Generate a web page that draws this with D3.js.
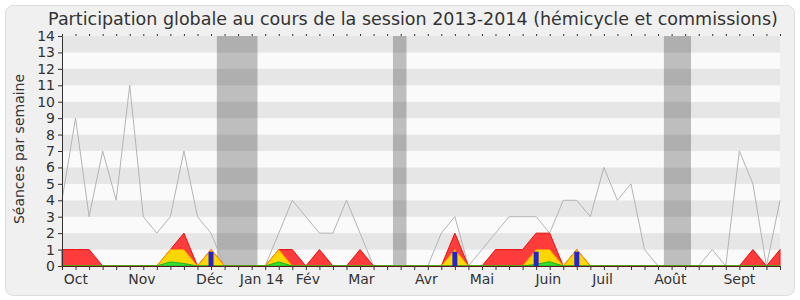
<!DOCTYPE html>
<html>
<head>
<meta charset="utf-8">
<script src="https://cdn.jsdelivr.net/npm/d3@7"></script>
<style>
  body { margin: 0; background: #ffffff; }
  text { font-family: "DejaVu Sans", sans-serif; fill: #333333; }
</style>
</head>
<body>
<svg id="chart" width="800" height="300"></svg>
<script>
// weekly values, session 2013-2014 (54 weeks)
var seances = [4,9,3,7,4,11,3,2,3,7,3,2,0,0,0,0,2,4,3,2,2,4,2,0,0,0,0,0,2,3,0,1,2,3,3,3,2,4,4,3,6,4,5,1,0,0,0,0,1,0,7,5,0,4];
var presence = [1,1,1,0,0,0,0,0,1,2,0,1,0,0,0,0,1,1,0,1,0,0,1,0,0,0,0,0,0,2,0,0,1,1,1,2,2,0,1,0,0,0,0,0,0,0,0,0,0,0,0,1,0,1];
var participation = [0,0,0,0,0,0,0,0,1,1,0,1,0,0,0,0,1,0,0,0,0,0,0,0,0,0,0,0,0,1,0,0,0,0,0,1,1,0,1,0,0,0,0,0,0,0,0,0,0,0,0,0,0,0];
var interventions = [0,0,0,0,0,0,0,0,0.25,0.15,0,0,0,0,0,0,0.25,0,0,0,0,0,0,0,0,0,0,0,0,0,0,0,0,0,0,0.1,0.26,0,0,0,0,0,0,0,0,0,0,0,0,0,0,0,0,0];
var questions = [0,0,0,0,0,0,0,0,0,0,0,0.87,0,0,0,0,0,0,0,0,0,0,0,0,0,0,0,0,0,0.87,0,0,0,0,0,0.87,0,0,0.87,0,0,0,0,0,0,0,0,0,0,0,0,0,0,0];

var vacStart = [11.43, 24.43, 44.43];
var vacEnd = [14.43, 25.43, 46.43];

var monthLabels = ["Oct","Nov","Déc","Jan 14","Fév","Mar","Avr","Mai","Juin","Juil","Août","Sept"];
var monthPos = [1.03, 5.9, 10.9, 14.74, 18.15, 22.1, 26.9, 31, 35.9, 39.9, 44.9, 50];

var yTicks = d3.range(0, 15);

var svg = d3.select("#chart");
var pLeft = 62, pRight = 780, pTop = 36, pBottom = 266;

svg.append("rect")
  .attr("x", 5.5).attr("y", 5.5).attr("width", 789).attr("height", 290)
  .attr("rx", 8).attr("fill", "#f0f0f0").attr("stroke", "#dcdcdc");

var x = d3.scaleLinear().domain([0, seances.length - 1]).range([pLeft, pRight]);
var y = d3.scaleLinear().domain([0, 14]).range([pBottom, pTop]);

// stripes
svg.append("g").selectAll("rect")
  .data(d3.range(0, 14))
  .enter().append("rect")
  .attr("x", pLeft).attr("width", pRight - pLeft)
  .attr("y", function(d){ return y(d + 1); })
  .attr("height", function(d){ return y(d) - y(d + 1); })
  .attr("fill", function(d){ return d % 2 ? "#e6e6e6" : "#fafafa"; });

// holidays
svg.append("g").selectAll("rect")
  .data(vacStart)
  .enter().append("rect")
  .attr("x", function(d){ return x(d); })
  .attr("width", function(d, i){ return x(vacEnd[i]) - x(d); })
  .attr("y", pTop).attr("height", pBottom - pTop)
  .attr("fill", "#000").attr("fill-opacity", 0.24);

// total sessions line
var line = d3.line().x(function(d, i){ return x(i); }).y(function(d){ return y(d); });
svg.append("path").attr("d", line(seances))
  .attr("fill", "none").attr("stroke", "#b4b4b4").attr("stroke-width", 1);

function area(vals, fill, stroke){
  var a = d3.area().x(function(d, i){ return x(i); }).y0(y(0)).y1(function(d){ return y(d); });
  svg.append("path").attr("d", a(vals))
    .attr("fill", fill).attr("stroke", stroke).attr("stroke-width", 1);
}
area(presence, "#ff3b3b", "#e81010");
area(participation, "#ffd700", "#ff9000");
area(interventions, "#33e033", "#20b020");

// questions bars
svg.append("g").selectAll("rect")
  .data(questions.map(function(d, i){ return {i: i, v: d}; }).filter(function(d){ return d.v > 0; }))
  .enter().append("rect")
  .attr("x", function(d){ return x(d.i) - 2.5; })
  .attr("width", 5)
  .attr("y", function(d){ return y(d.v); })
  .attr("height", function(d){ return y(0) - y(d.v); })
  .attr("fill", "#2424d0");

// axes
var yAxis = d3.axisLeft(y).tickValues(yTicks).tickSize(4).tickFormat(d3.format("d"));
var gy = svg.append("g").attr("transform", "translate(" + pLeft + ",0)").call(yAxis);
gy.selectAll("text").style("font-size", "14px").attr("x", -7);
gy.select(".domain").attr("stroke", "#333");
gy.selectAll("line").attr("stroke", "#333");

var xAxis = d3.axisBottom(x).tickValues(d3.range(0, seances.length)).tickSize(4).tickFormat("");
var gx = svg.append("g").attr("transform", "translate(0," + pBottom + ")").call(xAxis);
gx.select(".domain").attr("stroke", "#5a1a1a");
gx.selectAll("line").attr("stroke", "#333");

var xTop = d3.axisTop(x).tickValues(d3.range(0, seances.length)).tickSize(2).tickFormat("");
var gt = svg.append("g").attr("transform", "translate(0," + pTop + ")").call(xTop);
gt.select(".domain").remove();
gt.selectAll("line").attr("stroke", "#333");

svg.append("g").selectAll("text")
  .data(monthLabels)
  .enter().append("text")
  .attr("x", function(d, i){ return x(monthPos[i]); })
  .attr("y", 284)
  .attr("text-anchor", "middle")
  .style("font-size", "14px")
  .text(function(d){ return d; });

svg.append("text")
  .attr("transform", "translate(24,149) rotate(-90)")
  .attr("text-anchor", "middle")
  .style("font-size", "14px")
  .text("Séances par semaine");

svg.append("text")
  .attr("x", 413).attr("y", 25)
  .attr("text-anchor", "middle")
  .style("font-size", "17.5px")
  .text("Participation globale au cours de la session 2013-2014 (hémicycle et commissions)");
</script>
</body>
</html>
